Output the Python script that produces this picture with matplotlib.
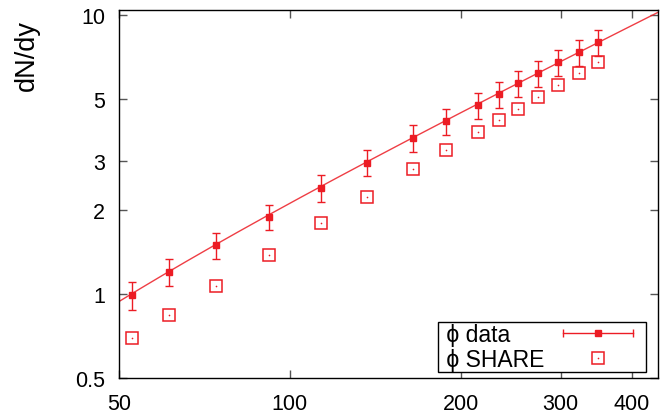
import numpy as np
import matplotlib
matplotlib.use('Agg')
import matplotlib.pyplot as plt
from matplotlib.lines import Line2D
from matplotlib.legend_handler import HandlerLine2D, HandlerTuple
from matplotlib.ticker import FixedLocator, FixedFormatter, NullLocator

plt.rcParams['font.family'] = ['Liberation Sans', 'DejaVu Sans']

red = '#ec1c24'

# phi yields vs N_part
npart = [52.7, 61.2, 74.0, 91.8, 113.5, 136.8, 165.0, 188.0, 214.0,
         233.6, 252.0, 274.0, 297.0, 323.0, 349.0]
phi_data = [0.99, 1.20, 1.50, 1.89, 2.40, 2.96, 3.63, 4.17, 4.76,
            5.21, 5.70, 6.19, 6.78, 7.36, 7.99]
phi_err = [0.11, 0.13, 0.16, 0.20, 0.26, 0.32, 0.39, 0.45, 0.51,
           0.56, 0.61, 0.66, 0.72, 0.78, 0.85]
phi_share = [0.696, 0.844, 1.065, 1.38, 1.79, 2.23, 2.81, 3.27, 3.81,
             4.21, 4.62, 5.10, 5.60, 6.19, 6.78]

# linear fit dN/dy = a*Npart + b
fit_a, fit_b = 0.0235, -0.235

xticks = [50, 100, 200, 300, 400]
yticks = [0.5, 1, 2, 3, 5, 10]

fig = plt.figure(figsize=(6.66, 4.14), dpi=100)
ax = fig.add_axes([0.1787, 0.0845, 0.8093, 0.8889])
ax.set_xscale('log')
ax.set_yscale('log')
ax.set_xlim(50, 445)
ax.set_ylim(0.5, 10.42)

xf = np.geomspace(50, 445, 200)
ax.plot(xf, fit_a * xf + fit_b, color=red, lw=1.0, alpha=0.85, zorder=2)

ax.errorbar(npart, phi_data, yerr=phi_err, fmt='s', color=red, ms=5,
            ecolor=red, elinewidth=1.0, capsize=2.8, capthick=1.0, zorder=3)
ax.plot(npart, phi_share, 's', ms=9, mfc='none', mec=red, mew=1.1, zorder=3)
ax.plot(npart, phi_share, 'o', ms=1.2, color=red, mew=0, zorder=3)

ax.xaxis.set_major_locator(FixedLocator(xticks))
ax.xaxis.set_major_formatter(FixedFormatter([str(v) for v in xticks]))
ax.xaxis.set_minor_locator(NullLocator())
ax.yaxis.set_major_locator(FixedLocator(yticks))
ax.yaxis.set_major_formatter(FixedFormatter([f'{v:g}' for v in yticks]))
ax.yaxis.set_minor_locator(NullLocator())
ax.tick_params(which='major', direction='in', length=6, width=1.0,
               color='#555555', top=True, right=True, labelsize=15.5)
ax.tick_params(axis='x', pad=11)
ax.tick_params(axis='y', pad=10)
for sp in ax.spines.values():
    sp.set_linewidth(1.0)

ax.set_ylabel('dN/dy', fontsize=19.5)
ax.yaxis.set_label_coords(-0.147, 0.88)

# legend handles: horizontal error bar with filled square, open square with dot
bar = Line2D([], [], color=red, lw=1.0, marker='|', ms=6, mew=1.0)
sq = Line2D([], [], color=red, ls='none', marker='s', ms=5)
osq = Line2D([], [], color=red, ls='none', marker='s', ms=9, mfc='none', mew=1.1)
dot = Line2D([], [], color=red, ls='none', marker='o', ms=1.2, mew=0)
leg = ax.legend([(bar, sq), (osq, dot)], [' \u03d5 data', ' \u03d5 SHARE'],
                handler_map={bar: HandlerLine2D(numpoints=2),
                             sq: HandlerLine2D(numpoints=1),
                             osq: HandlerLine2D(numpoints=1),
                             dot: HandlerLine2D(numpoints=1),
                             tuple: HandlerTuple(ndivide=1, pad=0)},
                loc='lower right', bbox_to_anchor=(0.978, 0.016),
                markerfirst=False, fontsize=16.5, frameon=True, fancybox=False,
                edgecolor='black', framealpha=1, handlelength=3.66,
                handletextpad=1.0, borderpad=0.05, labelspacing=0.08,
                borderaxespad=0)
leg.get_frame().set_linewidth(1.0)
# labels flush left, samples flush right (with a small margin) in each row
for column in leg._legend_handle_box.get_children():
    for row in column.get_children():
        row.mode = 'expand'
        row.width = 205.5
        row.get_children()[1].width += 3.6

fig.savefig('out.png', dpi=100)
